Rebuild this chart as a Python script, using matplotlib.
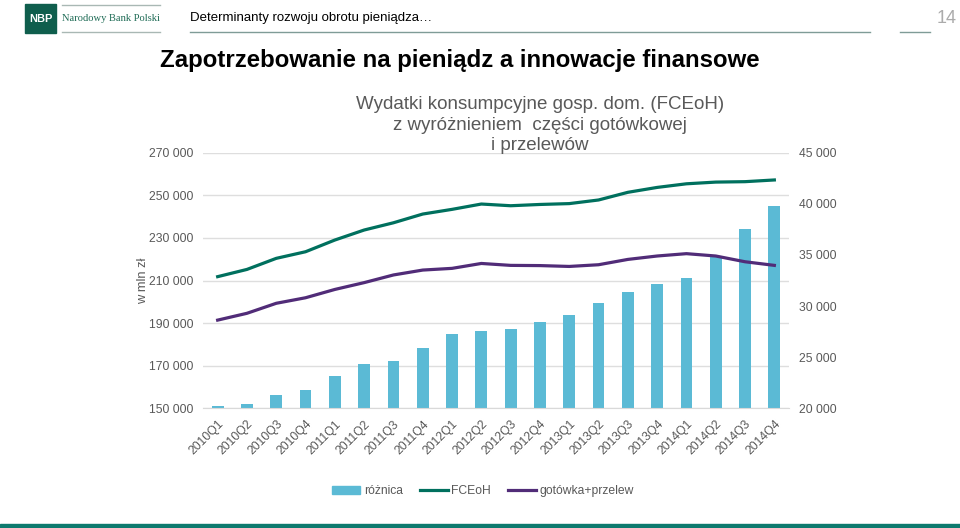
import matplotlib.pyplot as plt
from matplotlib.patches import Rectangle
from matplotlib.lines import Line2D
from matplotlib.ticker import FuncFormatter

quarters = [
    "2010Q1", "2010Q2", "2010Q3", "2010Q4",
    "2011Q1", "2011Q2", "2011Q3", "2011Q4",
    "2012Q1", "2012Q2", "2012Q3", "2012Q4",
    "2013Q1", "2013Q2", "2013Q3", "2013Q4",
    "2014Q1", "2014Q2", "2014Q3", "2014Q4",
]
fceoh = [
    211800, 215200, 220400, 223500,
    229000, 233700, 237100, 241200,
    243400, 245900, 245100, 245700,
    246100, 247800, 251400, 253700,
    255400, 256200, 256400, 257200,
]
gotowka_przelew = [
    191400, 194600, 199300, 201900,
    205800, 209000, 212600, 214900,
    215700, 218000, 217100, 217000,
    216600, 217400, 219900, 221500,
    222600, 221500, 218800, 217100,
]
roznica = [
    20200, 20420, 21270, 21830,
    23160, 24370, 24600, 25870,
    27270, 27530, 27790, 28470,
    29130, 30270, 31340, 32130,
    32710, 34770, 37540, 39820,
]

plt.rcParams["font.family"] = ["Liberation Sans", "DejaVu Sans"]

GRAY = "#595959"
BAR = "#5bbad5"
TEAL = "#00705e"
PURPLE = "#512c78"

LEFT_LIM = (150000, 270000)
RIGHT_LIM = (20000, 45000)

fig = plt.figure(figsize=(9.6, 5.28), dpi=100)

# chart area: bars on the right scale, lines on the left scale
ax = fig.add_axes([203 / 960, 1 - 408.3 / 528, 586 / 960, 255.6 / 528])
x = list(range(len(quarters)))
ax.bar(x, roznica, width=0.4, color=BAR, zorder=2)
ax.set_ylim(*RIGHT_LIM)
ax.set_yticks(range(20000, 45001, 5000))
ax.set_xlim(-0.5, len(quarters) - 0.5)

# gridlines follow the left axis, drawn behind the bars
for v in range(150000, 270001, 20000):
    frac = (v - LEFT_LIM[0]) / (LEFT_LIM[1] - LEFT_LIM[0])
    ax.axhline(RIGHT_LIM[0] + frac * (RIGHT_LIM[1] - RIGHT_LIM[0]),
               color="#dedede", linewidth=1, zorder=1)

ax2 = ax.twinx()
ax2.plot(x, fceoh, color=TEAL, linewidth=2.3, zorder=3)
ax2.plot(x, gotowka_przelew, color=PURPLE, linewidth=2.3, zorder=3)
ax2.set_ylim(*LEFT_LIM)
ax2.set_yticks(range(150000, 270001, 20000))
ax2.yaxis.tick_left()
ax2.yaxis.set_label_position("left")
ax2.set_ylabel("w mln zł", color=GRAY, fontsize=9.3, labelpad=0)
ax.yaxis.tick_right()

fmt = FuncFormatter(lambda v, p: f"{int(v):,}".replace(",", " "))
ax.yaxis.set_major_formatter(fmt)
ax2.yaxis.set_major_formatter(fmt)

for a in (ax, ax2):
    for s in a.spines.values():
        s.set_visible(False)
ax.spines["bottom"].set_visible(True)
ax.spines["bottom"].set_color("#d9d9d9")

ax.tick_params(axis="y", length=0, pad=7, labelsize=8.7, labelcolor=GRAY)
ax2.tick_params(axis="y", length=0, pad=7, labelsize=8.7, labelcolor=GRAY)
ax.set_xticks(x)
ax.set_xticklabels(quarters, rotation=45, ha="right", va="top",
                   rotation_mode="anchor")
ax.tick_params(axis="x", length=0, pad=7, labelsize=8.7, labelcolor=GRAY)

fig.text(540 / 960, 1 - 125 / 528,
         "Wydatki konsumpcyjne gosp. dom. (FCEoH)\nz wyróżnieniem  części gotówkowej\ni przelewów",
         ha="center", va="center", fontsize=13.5, color=GRAY, linespacing=1.3)

handles = [
    Rectangle((0, 0), 1, 1, color=BAR),
    Line2D([], [], color=TEAL, linewidth=2.3),
    Line2D([], [], color=PURPLE, linewidth=2.3),
]
fig.legend(handles, ["różnica", "FCEoH", "gotówka+przelew"],
           loc="center", bbox_to_anchor=(483 / 960, 1 - 491 / 528),
           ncol=3, frameon=False, fontsize=8.7, handlelength=2.3,
           handleheight=0.6, handletextpad=0.3, columnspacing=1.4,
           labelcolor=GRAY)

# header
fig.patches.append(Rectangle((25 / 960, 1 - 33 / 528), 31 / 960, 29 / 528,
                             transform=fig.transFigure, color="#0f5e4d"))
fig.text(40.5 / 960, 1 - 18.5 / 528, "NBP", ha="center", va="center",
         color="white", fontsize=8, fontweight="bold")
fig.text(62 / 960, 1 - 18.5 / 528, "Narodowy Bank Polski", ha="left",
         va="center", color="#1e6b55", fontsize=7.6,
         family=["Liberation Serif", "DejaVu Serif"])
for yy in (5, 32):
    fig.add_artist(Line2D([62 / 960, 160 / 960], [1 - yy / 528] * 2,
                          color="#a9b8b4", linewidth=1))
fig.text(190 / 960, 1 - 18.5 / 528, "Determinanty rozwoju obrotu pieniądza…",
         ha="left", va="center", color="black", fontsize=9.5)
fig.add_artist(Line2D([190 / 960, 870 / 960], [1 - 32 / 528] * 2,
                      color="#7f9c97", linewidth=1))
fig.text(947 / 960, 1 - 18.5 / 528, "14", ha="center", va="center",
         color="#ababab", fontsize=13)
fig.add_artist(Line2D([900 / 960, 930 / 960], [1 - 32 / 528] * 2,
                      color="#7f9c97", linewidth=1))

fig.text(460 / 960, 1 - 60 / 528,
         "Zapotrzebowanie na pieniądz a innowacje finansowe",
         ha="center", va="center", fontsize=17.3, fontweight="bold")

# bottom band
fig.patches.append(Rectangle((0, 0), 1, 4.5 / 528, transform=fig.transFigure,
                             color="#0d7a6e"))

fig.savefig("out.png", dpi=100)
